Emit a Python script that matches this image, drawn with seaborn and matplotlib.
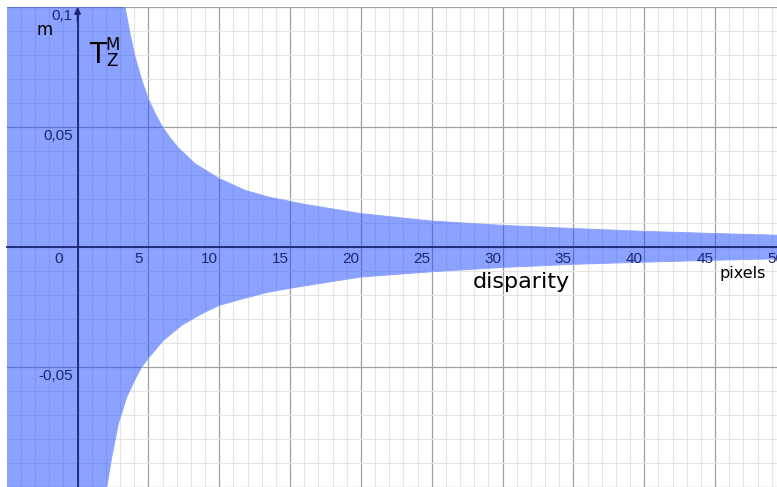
import matplotlib
matplotlib.use("Agg")
import matplotlib.pyplot as plt
from matplotlib.ticker import MultipleLocator
import pandas as pd
import seaborn as sns

# Upper and lower bounds of the depth tolerance T_Z^M (m) against disparity (pixels)
disparity_upper = [3.35, 3.70, 4.06, 4.53, 5.0, 5.47, 5.94, 6.5, 7.11, 8.29, 10.0,
                   11.82, 13.47, 15.0, 15.7, 20.0, 25.0, 30.0, 35.0, 40.0, 45.0, 49.4]
tz_upper = [0.100, 0.0889, 0.0792, 0.0695, 0.0616, 0.0557, 0.0505, 0.0457, 0.0413,
            0.0347, 0.0285, 0.0236, 0.0208, 0.0190, 0.0181, 0.0139, 0.0108, 0.0090,
            0.0077, 0.0065, 0.0056, 0.0049]
disparity_lower = [2.06, 2.41, 2.88, 3.47, 4.18, 4.53, 5.0, 6.06, 7.35, 8.77, 10.0,
                   11.82, 13.47, 15.0, 15.7, 20.0, 25.0, 30.0, 35.0, 40.0, 45.0, 49.4]
tz_lower = [-0.100, -0.0875, -0.0736, -0.0625, -0.0537, -0.0500, -0.0462, -0.0389,
            -0.0326, -0.0278, -0.0243, -0.0213, -0.0188, -0.0172, -0.0165, -0.0125,
            -0.0103, -0.0085, -0.0072, -0.0063, -0.0055, -0.0049]

x_tick_values = [5, 10, 15, 20, 25, 30, 35, 40, 45, 50]
x_tick_labels = ["5", "10", "15", "20", "25", "30", "35", "40", "45", "50"]
y_tick_values = [0.1, 0.05, -0.05]
y_tick_labels = ["0,1", "0,05", "-0,05"]

sns.set_style("white")
plt.rcParams["font.family"] = ["DejaVu Sans"]

NAVY = "#1c2670"
FILL = (0.10, 0.28, 1.0)
FILL_ALPHA = 0.5
EDGE = tuple(1 - FILL_ALPHA * (1 - c) for c in FILL)

W, H = 777, 487
fig = plt.figure(figsize=(W / 100, H / 100), dpi=100)
# graphics view leaves a thin white margin on the left and top
ax = fig.add_axes([7 / W, 0, 770 / W, 480 / H])
xmin, xmax = -4.98, 49.37
ymin, ymax = -0.1, 0.1
ax.set_xlim(xmin, xmax)
ax.set_ylim(ymin, ymax)

# grid: light lines each unit / 0.01, darker every 5 units / 0.05
ax.xaxis.set_major_locator(MultipleLocator(5))
ax.xaxis.set_minor_locator(MultipleLocator(1))
ax.yaxis.set_major_locator(MultipleLocator(0.05))
ax.yaxis.set_minor_locator(MultipleLocator(0.01))
ax.set_axisbelow(True)
ax.grid(which="minor", color="#e4e4e4", lw=0.8)
ax.grid(which="major", color="#a0a0a0", lw=0.9)

# axes through the origin
for side in ("top", "right"):
    ax.spines[side].set_visible(False)
ax.spines["left"].set_position(("data", 0))
ax.spines["bottom"].set_position(("data", 0))
for side in ("left", "bottom"):
    ax.spines[side].set_color(NAVY)
    ax.spines[side].set_linewidth(1.3)
    ax.spines[side].set_zorder(3)
ax.spines["left"].set_bounds(ymin, 0.097)
ax.tick_params(which="major", direction="inout", length=7, width=1.1, color=NAVY,
               labelbottom=False, labelleft=False)
ax.tick_params(which="minor", direction="inout", length=4, width=1.0, color=NAVY)
ax.annotate("", xy=(0, 0.1), xytext=(0, 0.094),
            arrowprops=dict(arrowstyle="-|>", color=NAVY, lw=1.3,
                            mutation_scale=9, shrinkA=0, shrinkB=0), zorder=4)

# tolerance band, open to the left of the curves
df_up = pd.DataFrame({"disparity": disparity_upper, "tz": tz_upper})
df_lo = pd.DataFrame({"disparity": disparity_lower, "tz": tz_lower})
poly_x = [xmin] + list(df_up["disparity"]) + list(df_lo["disparity"][::-1]) + [xmin]
poly_y = [tz_upper[0]] + list(df_up["tz"]) + list(df_lo["tz"][::-1]) + [tz_lower[0]]
ax.fill(poly_x, poly_y, color=FILL, alpha=FILL_ALPHA, lw=0, zorder=1.5)
sns.lineplot(data=df_up, x="disparity", y="tz", ax=ax, color=EDGE, lw=0.7,
             zorder=1.6, legend=False)
sns.lineplot(data=df_lo, x="disparity", y="tz", ax=ax, color=EDGE, lw=0.7,
             zorder=1.6, legend=False)
ax.set_xlabel("")
ax.set_ylabel("")

# tick labels
tick_font = dict(family=["Liberation Sans", "DejaVu Sans"], size=11, color=NAVY)
for v, s in zip(x_tick_values, x_tick_labels):
    ax.annotate(s, xy=(v, 0), xytext=(-10, -5), textcoords="offset pixels",
                ha="center", va="top", annotation_clip=False, **tick_font)
ax.annotate("0", xy=(0, 0), xytext=(-19, -5), textcoords="offset pixels",
            ha="center", va="top", **tick_font)
for v, s in zip(y_tick_values, y_tick_labels):
    ax.annotate(s, xy=(0, v), xytext=(-5, -2), textcoords="offset pixels",
                ha="right", va="top", annotation_clip=False, **tick_font)

def px(x, y):
    return x / W, 1 - y / H

fig.text(*px(45, 35), "m", fontsize=12, color="black", ha="center", va="baseline")
fig.text(*px(89, 63), "T", fontsize=20, color="black", ha="left", va="baseline")
fig.text(*px(105, 50), "M", fontsize=12, color="black", ha="left", va="baseline")
fig.text(*px(106, 66), "Z", fontsize=12, color="black", ha="left", va="baseline")
fig.text(*px(521, 288), "disparity", fontsize=16, color="black", ha="center",
         va="baseline")
fig.text(*px(743, 278), "pixels", fontsize=11.5, color="black", ha="center",
         va="baseline")

fig.savefig("out.png", dpi=100)
